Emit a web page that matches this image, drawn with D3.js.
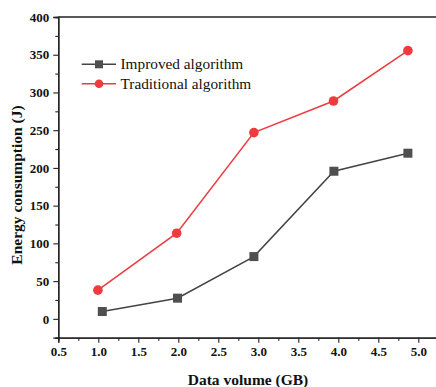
<!DOCTYPE html>
<html><head><meta charset="utf-8">
<script src="https://cdn.jsdelivr.net/npm/d3@7"></script>
<style>body{margin:0;background:#fff}svg{display:block}text{font-family:"Liberation Serif","Times New Roman",serif}</style>
</head><body><svg id="c" width="436" height="387"></svg>
<script>
const xImproved = [1.05, 1.99, 2.945, 3.945, 4.87];
const yImproved = [9.7, 27.4, 82.5, 195.6, 219.5];
const xTraditional = [0.995, 1.98, 2.945, 3.94, 4.87];
const yTraditional = [38, 113.5, 246.8, 288.7, 355.4];
const seriesNames = ["Improved algorithm", "Traditional algorithm"];
const xTicks = [0.5, 1.0, 1.5, 2.0, 2.5, 3.0, 3.5, 4.0, 4.5, 5.0];
const yTicks = [0, 50, 100, 150, 200, 250, 300, 350, 400];

const svg = d3.select("#c");
const x = d3.scaleLinear().domain([0.5, 5.25]).range([58.3, 438.3]);
const y = d3.scaleLinear().domain([-25, 400]).range([337.7, 17]);
const axisCol = "#222";

// frame top
svg.append("line").attr("x1", x(0.5)).attr("x2", 436).attr("y1", y(400)).attr("y2", y(400))
  .attr("stroke", axisCol).attr("stroke-width", 1.3);

// x axis
const gx = svg.append("g").attr("transform", `translate(0,${y(-25)})`);
gx.call(d3.axisBottom(x).tickValues(d3.range(0.75, 5.25, 0.5)).tickSize(3).tickFormat(""));
gx.call(g => g.append("g").call(d3.axisBottom(x).tickValues(xTicks).tickSize(5).tickFormat(d3.format(".1f"))));
gx.selectAll("path.domain").attr("stroke", axisCol).attr("stroke-width", 1.3);
gx.selectAll("line").attr("stroke", axisCol).attr("stroke-width", 1.1);
gx.selectAll("text").attr("font-size", 13).attr("font-weight", "bold").attr("fill", "#111").attr("dy", "0.95em").attr("y", 6);

// y axis
const gy = svg.append("g").attr("transform", `translate(${x(0.5)},0)`);
gy.call(d3.axisLeft(y).tickValues(d3.range(-25, 400, 50)).tickSize(3).tickFormat(""));
gy.call(g => g.append("g").call(d3.axisLeft(y).tickValues(yTicks).tickSize(5).tickFormat(d3.format("d"))));
gy.selectAll("path.domain").attr("stroke", axisCol).attr("stroke-width", 1.3);
gy.selectAll("line").attr("stroke", axisCol).attr("stroke-width", 1.1);
gy.selectAll("text").attr("font-size", 13).attr("font-weight", "bold").attr("fill", "#111").attr("x", -9);

// titles
svg.append("text").attr("x", 248).attr("y", 385).attr("text-anchor", "middle")
  .attr("font-size", 15.5).attr("font-weight", "bold").attr("fill", "#111").text("Data volume (GB)");
svg.append("text").attr("transform", `translate(21.5,185) rotate(-90)`).attr("text-anchor", "middle")
  .attr("font-size", 15.5).attr("font-weight", "bold").attr("fill", "#111").text("Energy consumption (J)");

const grayLine = "#444", grayMark = "#4f4f4f", red = "#ef3a3e";
const line = d3.line().x(d => x(d[0])).y(d => y(d[1]));
const imp = xImproved.map((v, i) => [v, yImproved[i]]);
const tra = xTraditional.map((v, i) => [v, yTraditional[i]]);

svg.append("path").datum(imp).attr("d", line).attr("fill", "none").attr("stroke", grayLine).attr("stroke-width", 1.5);
svg.append("path").datum(tra).attr("d", line).attr("fill", "none").attr("stroke", red).attr("stroke-width", 1.5);
svg.selectAll("rect.m").data(imp).join("rect").attr("class", "m")
  .attr("x", d => x(d[0]) - 4.5).attr("y", d => y(d[1]) - 4.5).attr("width", 9).attr("height", 9).attr("fill", grayMark);
svg.selectAll("circle.m").data(tra).join("circle").attr("class", "m")
  .attr("cx", d => x(d[0])).attr("cy", d => y(d[1])).attr("r", 4.8).attr("fill", red);

// legend
const leg = [{name: seriesNames[0], col: grayLine, mc: grayMark, shape: "sq", yy: 64.3},
             {name: seriesNames[1], col: red, mc: red, shape: "ci", yy: 83.7}];
leg.forEach(l => {
  svg.append("line").attr("x1", 81.7).attr("x2", 116).attr("y1", l.yy).attr("y2", l.yy).attr("stroke", l.col).attr("stroke-width", 1.5);
  if (l.shape === "sq") svg.append("rect").attr("x", 99 - 4).attr("y", l.yy - 4).attr("width", 8).attr("height", 8).attr("fill", l.mc);
  else svg.append("circle").attr("cx", 99).attr("cy", l.yy).attr("r", 4.3).attr("fill", l.mc);
  svg.append("text").attr("x", 120.5).attr("y", l.yy + 5).attr("font-size", 15.3).attr("fill", "#111").text(l.name);
});
</script></body></html>
